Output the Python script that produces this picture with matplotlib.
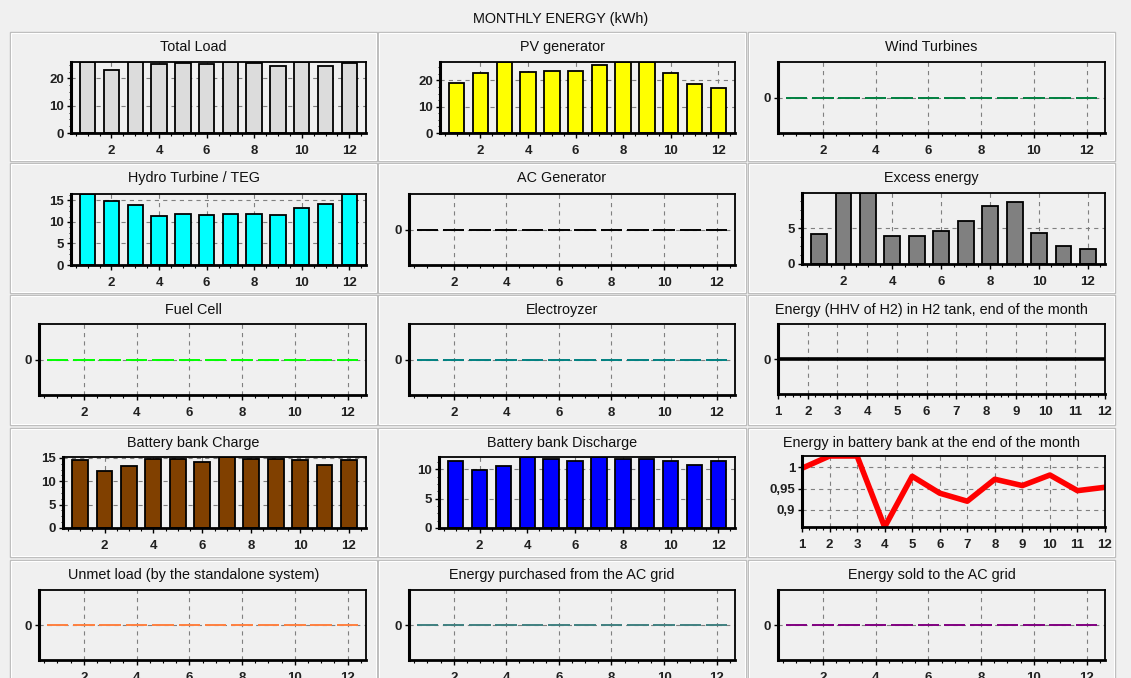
import matplotlib
matplotlib.use("Agg")
import matplotlib.pyplot as plt
from matplotlib.patches import Rectangle
from matplotlib.ticker import MultipleLocator, FuncFormatter, FixedLocator

plt.rcParams['font.family'] = ['Liberation Sans', 'DejaVu Sans']
plt.rcParams['lines.scale_dashes'] = False

W, H = 1131, 678

# ---- data (kWh per month) ----
months = list(range(1, 13))
total_load = [26.0, 23.0, 25.9, 25.2, 25.7, 25.2, 26.0, 25.6, 24.7, 26.0, 24.7, 25.6]
pv_gen = [19.2, 22.8, 27.0, 23.2, 23.6, 23.6, 25.8, 27.0, 27.0, 22.8, 18.6, 17.3]
wind = [0] * 12
hydro = [16.5, 14.9, 13.95, 11.4, 11.9, 11.6, 11.9, 11.9, 11.7, 13.3, 14.1, 16.5]
ac_gen = [0] * 12
excess = [4.17, 9.9, 9.9, 3.97, 3.97, 4.67, 5.94, 8.13, 8.6, 4.3, 2.48, 2.15]
fuel_cell = [0] * 12
electrolyzer = [0] * 12
h2_tank = [0] * 12
batt_charge = [14.5, 12.2, 13.2, 14.7, 14.7, 14.2, 15.2, 14.7, 14.7, 14.5, 13.4, 14.5]
batt_discharge = [11.5, 9.8, 10.5, 12.1, 11.7, 11.4, 12.1, 11.7, 11.7, 11.5, 10.7, 11.5]
batt_energy = [0.998, 1.027, 1.027, 0.859, 0.979, 0.939, 0.92, 0.972, 0.957, 0.982, 0.945, 0.953]
unmet = [0] * 12
purchased = [0] * 12
sold = [0] * 12

BG = '#f0f0f0'
fig = plt.figure(figsize=(W / 100, H / 100), dpi=100, facecolor=BG)


def px_axes(l, t, r, b):
    return fig.add_axes([l / W, 1 - b / H, (r - l) / W, (b - t) / H])


def panel(x0, y0, x1, y1, title):
    fig.add_artist(Rectangle((x0 / W, 1 - y1 / H), (x1 - x0) / W, (y1 - y0) / H,
                             transform=fig.transFigure, facecolor=BG,
                             edgecolor='#bcbcbc', lw=1.0, zorder=0))
    fig.add_artist(Rectangle(((x0 + 1) / W, 1 - (y1 - 1) / H), (x1 - x0 - 2) / W, (y1 - y0 - 2) / H,
                             transform=fig.transFigure, facecolor='none',
                             edgecolor='white', lw=0.8, zorder=0))
    fig.text((x0 + x1) / 2 / W, 1 - (y0 + 15) / H, title, ha='center', va='center',
             fontsize=10.4, color='#101010')


def style(ax, full=False):
    ax.set_facecolor(BG)
    for s in ax.spines.values():
        s.set_color('black')
        s.set_linewidth(1.3)
    ax.spines['left'].set_linewidth(2.2)
    ax.spines['bottom'].set_linewidth(2.0)
    ax.set_axisbelow(True)
    ax.grid(True, color='#808080', lw=0.8, linestyle=(0, (3, 3)))
    if full:
        ax.set_xlim(1, 12)
        ax.xaxis.set_major_locator(MultipleLocator(1))
        ax.xaxis.set_minor_locator(MultipleLocator(0.25))
    else:
        ax.set_xlim(0.3, 12.7)
        ax.xaxis.set_major_locator(MultipleLocator(2))
        ax.xaxis.set_minor_locator(MultipleLocator(0.5))
    ax.tick_params(axis='x', which='major', direction='out', length=3.5, width=1.0,
                   pad=5, labelsize=9.5, labelcolor='#202020')
    ax.tick_params(axis='x', which='minor', direction='out', length=2, width=0.8)
    ax.tick_params(axis='y', which='major', direction='out', length=3, width=1.0,
                   pad=2, labelsize=9.5, labelcolor='#202020')
    for lab in ax.get_xticklabels() + ax.get_yticklabels():
        lab.set_fontweight('bold')


def bar_chart(ax, values, color, step):
    ax.bar(months, values, width=0.65, color=color, edgecolor='black', lw=1.3)
    # autoscaled like the original: axis runs from 0 to the largest value
    ax.set_ylim(0, max(values))
    ax.yaxis.set_major_locator(MultipleLocator(step))
    ax.yaxis.set_minor_locator(MultipleLocator(step / 4))
    ax.tick_params(axis='y', which='minor', direction='out', length=1.5, width=0.6)
    style(ax)


def zero_chart(ax, values, color):
    ax.bar(months, values, width=0.82, color=color, edgecolor=color, lw=1.4)
    ax.set_ylim(-1, 1)
    ax.yaxis.set_major_locator(FixedLocator([0]))
    style(ax)


cols = [(10, 377), (378, 746), (748, 1115)]
rows = [(32, 161), (163, 293), (295, 425), (428, 557), (560, 692)]

titles = [["Total Load", "PV generator", "Wind Turbines"],
          ["Hydro Turbine / TEG", "AC Generator", "Excess energy"],
          ["Fuel Cell", "Electroyzer", "Energy (HHV of H2) in H2 tank, end of the month"],
          ["Battery bank Charge", "Battery bank Discharge", "Energy in battery bank at the end of the month"],
          ["Unmet load (by the standalone system)", "Energy purchased from the AC grid",
           "Energy sold to the AC grid"]]

for i, (y0, y1) in enumerate(rows):
    for j, (x0, x1) in enumerate(cols):
        panel(x0, y0, x1, y1, titles[i][j])

fig.text(561 / W, 1 - 19 / H, "MONTHLY ENERGY (kWh)", ha='center', va='center',
         fontsize=10.4, color='#101010')

# row 1
bar_chart(px_axes(71, 62, 366, 133), total_load, '#dcdcdc', 10)
bar_chart(px_axes(440, 62, 735, 133), pv_gen, '#ffff00', 10)
zero_chart(px_axes(778, 62, 1105, 133), wind, '#008040')

# row 2
bar_chart(px_axes(71, 194, 366, 265), hydro, '#00ffff', 5)
zero_chart(px_axes(409, 194, 735, 265), ac_gen, '#000000')
bar_chart(px_axes(802, 193, 1105, 264), excess, '#808080', 5)

# row 3
zero_chart(px_axes(39, 324, 366, 395), fuel_cell, '#00ff00')
zero_chart(px_axes(409, 324, 735, 395), electrolyzer, '#008080')
ax = px_axes(778, 324, 1105, 394)
ax.plot(months, h2_tank, color='black', lw=2.6)
ax.set_ylim(-1, 1)
ax.yaxis.set_major_locator(FixedLocator([0]))
style(ax, full=True)

# row 4
bar_chart(px_axes(63, 457, 366, 528), batt_charge, '#804000', 5)
bar_chart(px_axes(439, 457, 735, 528), batt_discharge, '#0000ff', 5)
ax = px_axes(802, 456, 1105, 527)
ax.plot(months, batt_energy, color='#ff0000', lw=4.0)
ax.set_ylim(min(batt_energy), max(batt_energy))
ax.yaxis.set_major_locator(MultipleLocator(0.05))
ax.yaxis.set_major_formatter(FuncFormatter(lambda v, p: ('%g' % round(v, 2)).replace('.', ',')))
style(ax, full=True)

# row 5
zero_chart(px_axes(39, 590, 366, 660), unmet, '#ff8040')
zero_chart(px_axes(409, 590, 735, 660), purchased, '#408080')
zero_chart(px_axes(778, 590, 1105, 660), sold, '#800080')

fig.savefig('out.png', dpi=100, facecolor=BG)
